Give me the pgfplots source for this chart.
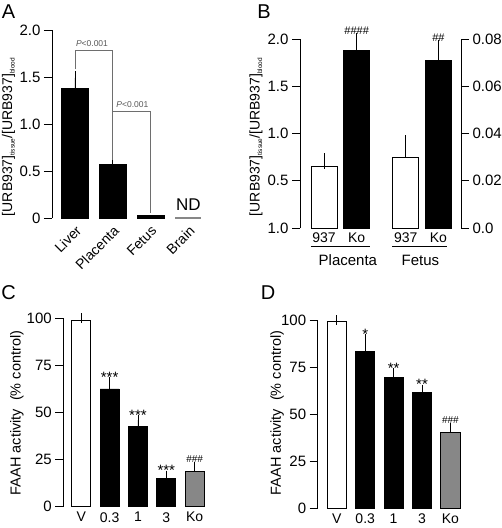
\documentclass[border=0pt]{standalone}
\usepackage{fontspec}
\setmainfont{Liberation Sans}
\usepackage{pgfplots}
\pgfplotsset{compat=1.18}
\definecolor{barg}{RGB}{135,135,135}
\definecolor{brk}{RGB}{110,110,110}
\newcommand{\fs}[1]{\fontsize{#1}{#1}\selectfont}
\newcommand{\sub}[1]{\raisebox{-2.5pt}{\fs{6.5}#1}}
\pgfplotsset{
  panel/.style={
    scale only axis, clip=false,
    axis x line*=bottom, axis y line*=left,
    x axis line style={draw=none},
    y axis line style={-, line width=0.8pt},
    tick align=outside, major tick length=8pt,
    ytick style={line width=0.8pt, black},
    xtick style={draw=none},
    tick label style={font=\fs{15}},
    scaled y ticks=false,
    /pgf/number format/assume math mode=true,
  },
  bars/.style n args={2}{ybar, bar shift=0pt, bar width=#1, line width=0.8pt,
    /pgfplots/error bars/y dir=plus, /pgfplots/error bars/y explicit,
    /pgfplots/error bars/error mark=-,
    /pgfplots/error bars/error bar style={line width=0.8pt, black},
    /pgfplots/error bars/error mark options={line width=0.8pt, black, mark size=#2}},
}
\begin{document}
\begin{tikzpicture}
\useasboundingbox (0,0) rectangle (502pt,-528pt);
% ---------------- A ----------------
\begin{axis}[panel, at={(52pt,-218pt)}, anchor=south west,
  width=163pt, height=188pt, xmin=-0.608, xmax=3.704, ymin=0, ymax=2,
  ytick={0,0.5,1,1.5,2}, yticklabels={0,0.5,1.0,1.5,2.0},
  xtick={0,1,2,3}, xticklabels={Liver,Placenta,Fetus,Brain},
  xticklabel shift=-6pt,
  x tick label style={rotate=45, anchor=north east, font=\fs{14}}]
\addplot[bars={0.714}{7pt}, fill=black, draw=black] coordinates {(0,1.38) +- (0,0.11) (1,0.57) +- (0,0.025)};
\addplot[ybar, bar shift=0pt, bar width=0.714, line width=0.8pt, fill=black, draw=black] coordinates {(2,0.025)};
\addplot[barg, line width=1.3pt] coordinates {(2.655,0) (3.345,0)};
\addplot[brk, line width=0.6pt] coordinates {(0,1.58) (0,1.78) (1,1.78) (1,0.62)};
\addplot[brk, line width=0.6pt] coordinates {(1,1.13) (2,1.13) (2,0.05)};
\node[text=brk!80!black, font=\fs{8.5}] at (axis cs:0.45,1.86) {\textit{P}<0.001};
\node[text=brk!80!black, font=\fs{8.5}] at (axis cs:1.52,1.21) {\textit{P}<0.001};
\node[anchor=base, font=\fs{17}, yshift=8pt] at (axis cs:3,0) {ND};
\end{axis}
% ---------------- B ----------------
\begin{axis}[panel, at={(300pt,-228pt)}, anchor=south west,
  width=161pt, height=189pt, xmin=-0.734, xmax=4.19, ymin=0, ymax=2,
  ytick={0,0.5,1,1.5,2}, yticklabels={1.0,0.5,1.0,1.5,2.0},
  xtick={0,1,2.5,3.5}, xticklabels={937,Ko,937,Ko},
  xticklabel shift=-7pt,
  x tick label style={font=\fs{14}}]
\addplot[bars={0.795}{8pt}, fill=white, draw=black] coordinates {(0,0.649) +- (0,0.06)};
\addplot[bars={0.795}{8pt}, fill=black, draw=black] coordinates {(1,1.876) +- (0,0.104)};
\node[anchor=base, font=\fs{11}, yshift=6pt] at (axis cs:1,1.98) {\#\#\#\#};
\draw[line width=0.6pt] ([yshift=-18pt]axis cs:-0.40,0) -- ([yshift=-18pt]axis cs:1.41,0);
\draw[line width=0.6pt] ([yshift=-18pt]axis cs:2.08,0) -- ([yshift=-18pt]axis cs:3.76,0);
\node[font=\fs{15}] at ([yshift=-32pt]axis cs:0.73,0) {Placenta};
\node[font=\fs{15}] at ([yshift=-32pt]axis cs:2.95,0) {Fetus};
\end{axis}
\begin{axis}[scale only axis, clip=false, at={(300pt,-228pt)}, anchor=south west,
  width=161pt, height=189pt, xmin=-0.734, xmax=4.19, ymin=0, ymax=0.08,
  axis x line=none, axis y line*=right, y axis line style={-, line width=0.8pt},
  tick align=outside, major tick length=8pt, ytick style={line width=0.8pt, black},
  tick label style={font=\fs{15}}, scaled y ticks=false,
  /pgf/number format/assume math mode=true,
  xtick=\empty, ytick={0,0.02,0.04,0.06,0.08}, yticklabels={0.0,0.02,0.04,0.06,0.08}]
\addplot[bars={0.795}{8pt}, fill=white, draw=black] coordinates {(2.5,0.0298) +- (0,0.0061)};
\addplot[bars={0.795}{8pt}, fill=black, draw=black] coordinates {(3.5,0.0708) +- (0,0.0056)};
\node[anchor=base, font=\fs{11}, yshift=6pt] at (axis cs:3.5,0.0764) {\#\#};
\end{axis}
% ---------------- C ----------------
\begin{axis}[panel, at={(63.3pt,-506.7pt)}, anchor=south west,
  width=151.7pt, height=188.4pt, xmin=-0.636, xmax=4.72, ymin=0, ymax=100,
  ytick={0,25,50,75,100}, yticklabels={0,25,50,75,100},
  xtick={0,1,2,3,4}, xticklabels={V,0.3,1,3,Ko},
  xticklabel shift=-6pt,
  x tick label style={font=\fs{14}}]
\addplot[bars={0.67}{5pt}, fill=white, draw=black] coordinates {(0,98.8) +- (0,1.2)};
\addplot[bars={0.67}{5pt}, fill=black, draw=black] coordinates {(1,62.5) +- (0,3.5) (2,42.5) +- (0,3.5) (3,15) +- (0,1.5)};
\addplot[bars={0.67}{5pt}, fill=barg, draw=black] coordinates {(4,19) +- (0,1.9)};
\node[anchor=base, font=\fs{15}] at (axis cs:1,66) {***};
\node[anchor=base, font=\fs{15}] at (axis cs:2,46) {***};
\node[anchor=base, font=\fs{15}] at (axis cs:3,16.5) {***};
\node[anchor=base, font=\fs{10}, yshift=5pt] at (axis cs:4,20.9) {\#\#\#};
\end{axis}
% ---------------- D ----------------
\begin{axis}[panel, at={(317.7pt,-508.3pt)}, anchor=south west,
  width=152.3pt, height=188.3pt, xmin=-0.673, xmax=4.69, ymin=0, ymax=100,
  ytick={0,25,50,75,100}, yticklabels={0,25,50,75,100},
  xtick={0,1,2,3,4}, xticklabels={V,0.3,1,3,Ko},
  xticklabel shift=-6pt,
  x tick label style={font=\fs{14}}]
\addplot[bars={0.67}{5pt}, fill=white, draw=black] coordinates {(0,99.2) +- (0,0.8)};
\addplot[bars={0.67}{5pt}, fill=black, draw=black] coordinates {(1,83.4) +- (0,6.5) (2,69.6) +- (0,2.1) (3,61.6) +- (0,1.4)};
\addplot[bars={0.67}{5pt}, fill=barg, draw=black] coordinates {(4,40.4) +- (0,2.1)};
\node[anchor=base, font=\fs{15}] at (axis cs:1,89.9) {*};
\node[anchor=base, font=\fs{15}] at (axis cs:2,71.7) {**};
\node[anchor=base, font=\fs{15}] at (axis cs:3,63) {**};
\node[anchor=base, font=\fs{10}, yshift=5pt] at (axis cs:4,42.5) {\#\#\#};
\end{axis}
% ---------------- labels ----------------
\node[font=\fs{20}] at (8.5pt,-11.5pt) {A};
\node[font=\fs{20}] at (264pt,-12pt) {B};
\node[font=\fs{20}] at (8.5pt,-293pt) {C};
\node[font=\fs{20}] at (268pt,-293pt) {D};
\node[rotate=90, font=\fs{14}] at (8.5pt,-137pt) {[URB937]\sub{tissue}/[URB937]\sub{blood}};
\node[rotate=90, font=\fs{14}] at (256pt,-137pt) {[URB937]\sub{tissue}/[URB937]\sub{blood}};
\node[rotate=90, font=\fs{14.5}] at (17pt,-413pt) {FAAH activity\ \ (\% control)};
\node[rotate=90, font=\fs{14.5}] at (277pt,-413pt) {FAAH activity\ \ (\% control)};
\end{tikzpicture}
\end{document}
